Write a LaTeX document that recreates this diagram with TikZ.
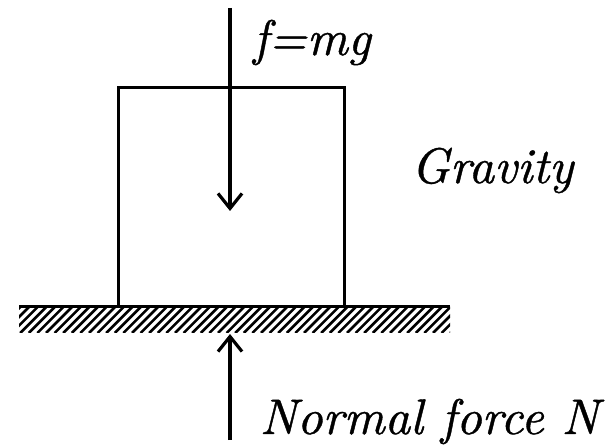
\documentclass[tikz,border=0pt]{standalone}
\usepackage{fontspec}
\newfontfamily\lblfont{lmroman10-italic.otf}[FakeBold=0.8]
\usetikzlibrary{arrows.meta}
\begin{document}
\begin{tikzpicture}[x=1pt,y=-1pt,
  thick line/.style={line width=3pt},
  force/.style={line width=3.2pt,-{Straight Barb[length=15pt,width=24pt,line width=3.2pt]}},
  lbl/.style={inner sep=0pt,anchor=base west,font=\lblfont\fontsize{50}{50}\selectfont}]
\useasboundingbox (0,0) rectangle (608,446);
% box
\coordinate (bl) at (118,307);
\coordinate (tr) at (344,88);
\draw[thick line] (bl) |- (tr) -- (344,307);
% ground
\coordinate (gl) at (19,307);
\coordinate (gr) at (450,307);
\begin{scope}
\clip (19,307) rectangle (450,333);
\foreach \i in {-40,-31.4,...,480}{
  \draw[line width=2.6pt] (\i,333) -- ++(26,-26);
}
\end{scope}
\draw[thick line] (gl) -- (gr);
% gravity arrow
\coordinate (gtop) at (230,8);
\coordinate (gtip) at (230,211);
\draw[force] (gtop) -- (gtip);
% normal arrow
\coordinate (nbot) at (230,440);
\coordinate (ntip) at (230,334);
\draw[force] (nbot) -- (ntip);
% labels
\node[lbl] (fmg) at (253,55) {f=mg};
\node[lbl] (grav) at (411,183) {Gravity};
\node[lbl,anchor=base east] (norm) at (599,434) {Normal force N};
\end{tikzpicture}
\end{document}
